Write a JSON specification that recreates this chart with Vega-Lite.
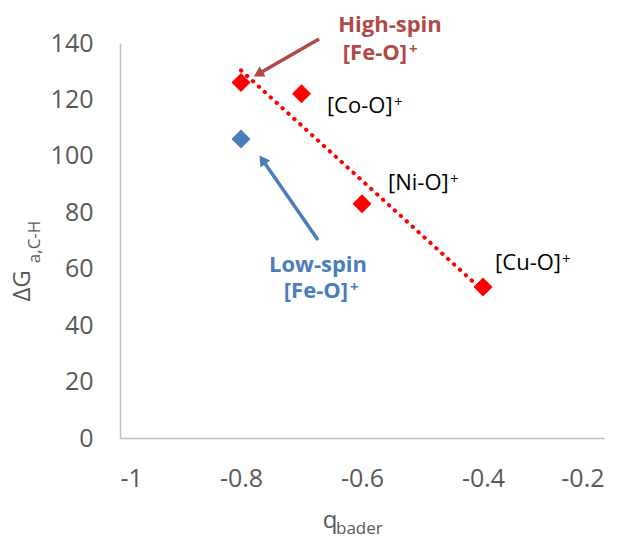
{
  "$schema": "https://vega.github.io/schema/vega-lite/v6.json",
  "autosize": {"type": "none"},
  "width": 484,
  "height": 395,
  "padding": {"left": 120, "top": 43, "right": 19, "bottom": 104},
  "background": "white",
  "config": {
    "view": {"stroke": null},
    "font": "Open Sans",
    "axis": {"grid": false, "ticks": false, "tickSize": 0, "domainColor": "#bfbfbf", "domainWidth": 1.5, "labelColor": "#595959", "labelFont": "Open Sans", "labelFontSize": 25, "title": null}
  },
  "layer": [
    {
      "data": {"values": [
        {"q": -0.8, "dG": 126, "spin": "high"},
        {"q": -0.7, "dG": 122, "spin": "high"},
        {"q": -0.6, "dG": 83, "spin": "high"},
        {"q": -0.4, "dG": 53.5, "spin": "high"}
      ]},
      "transform": [{"regression": "dG", "on": "q", "extent": [-0.8, -0.4]}],
      "mark": {"type": "line", "color": "#ff0000", "strokeWidth": 4, "strokeCap": "round", "strokeDash": [0.5, 7.5]},
      "encoding": {
        "x": {"field": "q", "type": "quantitative", "scale": {"domain": [-1, -0.2], "nice": false, "zero": false},
              "axis": {"values": [-1, -0.8, -0.6, -0.4, -0.2], "labelExpr": "toString(datum.value)", "labelPadding": 28}},
        "y": {"field": "dG", "type": "quantitative", "scale": {"domain": [0, 140], "nice": false},
              "axis": {"values": [0, 20, 40, 60, 80, 100, 120, 140], "labelPadding": 27}}
      }
    },
    {
      "data": {"values": [
        {"q": -0.8, "dG": 126, "spin": "high"},
        {"q": -0.7, "dG": 122, "spin": "high"},
        {"q": -0.6, "dG": 83, "spin": "high"},
        {"q": -0.4, "dG": 53.5, "spin": "high"},
        {"q": -0.8, "dG": 106, "spin": "low"}
      ]},
      "mark": {"type": "point", "shape": "diamond", "filled": true, "size": 360, "opacity": 1},
      "encoding": {
        "x": {"field": "q", "type": "quantitative"},
        "y": {"field": "dG", "type": "quantitative"},
        "color": {"field": "spin", "type": "nominal", "scale": {"domain": ["high", "low"], "range": ["#ff0000", "#4a7ebb"]}, "legend": null}
      }
    },
    {
      "data": {"values": [
        {"x1": -0.671, "y1": 141.4, "x2": -0.7716, "y2": 129.0}
      ]},
      "mark": {"type": "rule", "color": "#b04a47", "strokeWidth": 3.5},
      "encoding": {
        "x": {"field": "x1", "type": "quantitative"},
        "y": {"field": "y1", "type": "quantitative"},
        "x2": {"field": "x2"},
        "y2": {"field": "y2"}
      }
    },
    {
      "data": {"values": [{"x": -0.7716, "y": 129.0}]},
      "mark": {"type": "point", "shape": "triangle-up", "filled": true, "size": 140, "color": "#b04a47", "opacity": 1, "angle": 240},
      "encoding": {"x": {"field": "x", "type": "quantitative"}, "y": {"field": "y", "type": "quantitative"}}
    },
    {
      "data": {"values": [
        {"x1": -0.6727, "y1": 70.2, "x2": -0.7646, "y2": 98.6}
      ]},
      "mark": {"type": "rule", "color": "#4a7ebb", "strokeWidth": 3.5},
      "encoding": {
        "x": {"field": "x1", "type": "quantitative"},
        "y": {"field": "y1", "type": "quantitative"},
        "x2": {"field": "x2"},
        "y2": {"field": "y2"}
      }
    },
    {
      "data": {"values": [{"x": -0.7646, "y": 98.6}]},
      "mark": {"type": "point", "shape": "triangle-up", "filled": true, "size": 140, "color": "#4a7ebb", "opacity": 1, "angle": 325},
      "encoding": {"x": {"field": "x", "type": "quantitative"}, "y": {"field": "y", "type": "quantitative"}}
    },
    {
      "data": {"values": [
        {"x": -0.658, "y": 117.7, "label": "[Co-O]"},
        {"x": -0.557, "y": 90.4, "label": "[Ni-O]"},
        {"x": -0.380, "y": 62.0, "label": "[Cu-O]"}
      ]},
      "mark": {"type": "text", "align": "left", "baseline": "middle", "fontSize": 22, "color": "#000000", "font": "Open Sans"},
      "encoding": {"x": {"field": "x", "type": "quantitative"}, "y": {"field": "y", "type": "quantitative"}, "text": {"field": "label"}}
    },
    {
      "data": {"values": [
        {"x": -0.5471, "y": 119.1, "label": "+"},
        {"x": -0.4545, "y": 91.8, "label": "+"},
        {"x": -0.2694, "y": 63.3, "label": "+"}
      ]},
      "mark": {"type": "text", "align": "left", "baseline": "middle", "fontSize": 15, "color": "#000000", "font": "Open Sans"},
      "encoding": {"x": {"field": "x", "type": "quantitative"}, "y": {"field": "y", "type": "quantitative"}, "text": {"field": "label"}}
    },
    {
      "data": {"values": [
        {"x": -0.5537, "y": 146.4, "label": "High-spin"}
      ]},
      "mark": {"type": "text", "align": "center", "baseline": "middle", "fontSize": 22, "fontWeight": "bold", "color": "#b04a47", "font": "Open Sans"},
      "encoding": {"x": {"field": "x", "type": "quantitative"}, "y": {"field": "y", "type": "quantitative"}, "text": {"field": "label"}}
    },
    {
      "data": {"values": [
        {"x": -0.5256, "y": 136.5, "label": "[Fe-O]"}
      ]},
      "mark": {"type": "text", "align": "right", "baseline": "middle", "fontSize": 22, "fontWeight": "bold", "color": "#b04a47", "font": "Open Sans"},
      "encoding": {"x": {"field": "x", "type": "quantitative"}, "y": {"field": "y", "type": "quantitative"}, "text": {"field": "label"}}
    },
    {
      "data": {"values": [
        {"x": -0.5223, "y": 137.9, "label": "+"}
      ]},
      "mark": {"type": "text", "align": "left", "baseline": "middle", "fontSize": 15, "fontWeight": "bold", "color": "#b04a47", "font": "Open Sans"},
      "encoding": {"x": {"field": "x", "type": "quantitative"}, "y": {"field": "y", "type": "quantitative"}, "text": {"field": "label"}}
    },
    {
      "data": {"values": [
        {"x": -0.6727, "y": 61.3, "label": "Low-spin"}
      ]},
      "mark": {"type": "text", "align": "center", "baseline": "middle", "fontSize": 22, "fontWeight": "bold", "color": "#4a7ebb", "font": "Open Sans"},
      "encoding": {"x": {"field": "x", "type": "quantitative"}, "y": {"field": "y", "type": "quantitative"}, "text": {"field": "label"}}
    },
    {
      "data": {"values": [
        {"x": -0.6231, "y": 52.2, "label": "[Fe-O]"}
      ]},
      "mark": {"type": "text", "align": "right", "baseline": "middle", "fontSize": 22, "fontWeight": "bold", "color": "#4a7ebb", "font": "Open Sans"},
      "encoding": {"x": {"field": "x", "type": "quantitative"}, "y": {"field": "y", "type": "quantitative"}, "text": {"field": "label"}}
    },
    {
      "data": {"values": [
        {"x": -0.6198, "y": 53.6, "label": "+"}
      ]},
      "mark": {"type": "text", "align": "left", "baseline": "middle", "fontSize": 15, "fontWeight": "bold", "color": "#4a7ebb", "font": "Open Sans"},
      "encoding": {"x": {"field": "x", "type": "quantitative"}, "y": {"field": "y", "type": "quantitative"}, "text": {"field": "label"}}
    },
    {
      "data": {"values": [{"x": -1.1603, "y": 53.9, "label": "ΔG"}]},
      "mark": {"type": "text", "align": "center", "baseline": "middle", "angle": 270, "fontSize": 24, "color": "#595959", "font": "Open Sans"},
      "encoding": {"x": {"field": "x", "type": "quantitative"}, "y": {"field": "y", "type": "quantitative"}, "text": {"field": "label"}}
    },
    {
      "data": {"values": [{"x": -1.1405, "y": 69.5, "label": "a,C-H"}]},
      "mark": {"type": "text", "align": "center", "baseline": "middle", "angle": 270, "fontSize": 17, "color": "#595959", "font": "Open Sans"},
      "encoding": {"x": {"field": "x", "type": "quantitative"}, "y": {"field": "y", "type": "quantitative"}, "text": {"field": "label"}}
    },
    {
      "data": {"values": [{"x": -0.6529, "y": -29.4, "label": "q"}]},
      "mark": {"type": "text", "align": "center", "baseline": "middle", "fontSize": 24, "color": "#595959", "font": "Open Sans"},
      "encoding": {"x": {"field": "x", "type": "quantitative"}, "y": {"field": "y", "type": "quantitative"}, "text": {"field": "label"}}
    },
    {
      "data": {"values": [{"x": -0.643, "y": -32.3, "label": "bader"}]},
      "mark": {"type": "text", "align": "left", "baseline": "middle", "fontSize": 17, "color": "#595959", "font": "Open Sans"},
      "encoding": {"x": {"field": "x", "type": "quantitative"}, "y": {"field": "y", "type": "quantitative"}, "text": {"field": "label"}}
    }
  ]
}
